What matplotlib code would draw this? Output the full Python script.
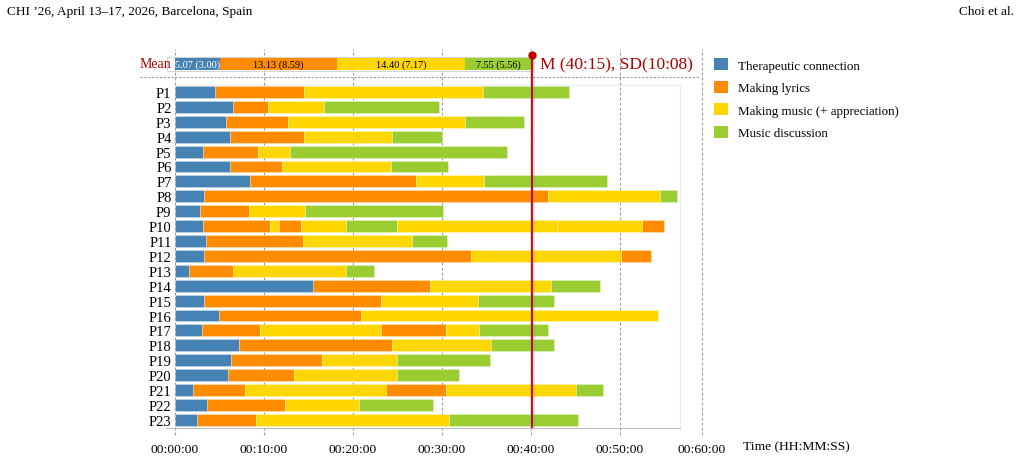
import matplotlib
matplotlib.use("Agg")
import matplotlib.pyplot as plt
from matplotlib.patches import Patch, Rectangle
import numpy as np

plt.rcParams['font.family'] = ['Liberation Serif', 'DejaVu Serif']

participants = [f"P{i}" for i in range(1, 24)]
categories = ["Therapeutic connection", "Making lyrics",
              "Making music (+ appreciation)", "Music discussion"]
cat_codes = ["T", "L", "M", "D"]
colors = ["#4682B4", "#FF8C00", "#FFD700", "#9ACD32"]

# segment order per participant (T=therapeutic, L=lyrics, M=music, D=discussion)
seg_cat = [
    "TLMD", "TLMD", "TLMD", "TLMD", "TLMD", "TLMD", "TLMD", "TLMD", "TLMD",
    "TLMLMDMML", "TLMD", "TLML", "TLMD", "TLMD", "TLMD", "TLM", "TLMLMD",
    "TLMD", "TLMD", "TLMD", "TLMLMD", "TLMD", "TLMD",
]
# segment durations in minutes
seg_min = [
    [4.49, 10.04, 20.05, 9.69],
    [6.55, 3.93, 6.26, 12.92],
    [5.70, 7.03, 19.85, 6.67],
    [6.18, 8.31, 9.89, 5.65],
    [3.18, 6.15, 3.63, 24.31],
    [6.18, 5.84, 12.25, 6.44],
    [8.43, 18.61, 7.68, 13.82],
    [3.29, 38.62, 12.58, 1.95],
    [2.84, 5.51, 6.22, 15.58],
    [3.15, 7.52, 0.98, 2.51, 5.05, 5.70, 17.98, 9.58, 2.44],
    [3.48, 10.90, 12.25, 3.93],
    [3.26, 30.03, 16.79, 3.44],
    [1.57, 4.95, 12.69, 3.15],
    [15.47, 13.18, 13.60, 5.54],
    [3.26, 19.92, 10.86, 8.54],
    [4.94, 15.96, 33.34],
    [3.03, 6.52, 13.60, 7.30, 3.71, 7.78],
    [7.19, 17.19, 11.13, 7.04],
    [6.29, 10.23, 8.39, 10.48],
    [5.96, 7.41, 11.61, 6.90],
    [2.02, 5.81, 15.84, 6.78, 14.61, 3.03],
    [3.56, 8.83, 8.25, 8.32],
    [2.51, 6.62, 21.69, 14.46],
]

mean_vals = [5.07, 13.13, 14.40, 7.55]
sd_vals = [3.00, 8.59, 7.17, 5.56]
total_label = "M (40:15), SD(10:08)"

tick_vals = [0, 10, 20, 30, 40, 50, 59.2]
tick_labels = ["00:00:00", "00:10:00", "00:20:00", "00:30:00",
               "00:40:00", "00:50:00", "00:60:00"]

RED = "#B00000"
W, H = 1021, 460
fig = plt.figure(figsize=(W / 100, H / 100), dpi=100)
ax = fig.add_axes([166 / W, 1 - 429 / H, 539 / W, 379 / H])

px_per_min = 8.9
x0 = 175
ax.set_xlim((166 - x0) / px_per_min, (705 - x0) / px_per_min)
row_px = 14.9
ytop = (50 - 93) / row_px
ybot = (429 - 93) / row_px
ax.set_ylim(ybot, ytop)
mean_y = (65 - 93) / row_px
bar_h = 0.8

# gridlines
for t in tick_vals:
    ax.axvline(t, ymin=-0.018, ymax=1, color="#9a9a9a", lw=0.8,
               ls=(0, (2.5, 2)), zorder=1, clip_on=False)

# participant bars
for i, (cats, mins) in enumerate(zip(seg_cat, seg_min)):
    left = 0.0
    for c, m in zip(cats, mins):
        ax.barh(i, m, left=left, height=bar_h,
                color=colors[cat_codes.index(c)],
                edgecolor=(1, 1, 1, 0.35), linewidth=0.5, zorder=2)
        left += m

# mean bar
box_right = sum(mean_vals)
ax.add_patch(Rectangle(((166 - x0) / px_per_min + 0.1, mean_y - 0.48),
                       box_right - (166 - x0) / px_per_min, 0.96,
                       fill=False, edgecolor="#cccccc", lw=0.6, zorder=1.5))
left = 0.0
for k, (m, s) in enumerate(zip(mean_vals, sd_vals)):
    ax.barh(mean_y, m, left=left, height=bar_h, color=colors[k],
            edgecolor="none", zorder=2)
    ax.text(left + m / 2, mean_y, f"{m:.2f} ({s:.2f})", ha="center",
            va="center", fontsize=7.4, color="white" if k == 0 else "black",
            zorder=3)
    left += m
ax.text((171 - x0) / px_per_min, mean_y, "Mean", ha="right", va="center",
        fontsize=10, color=RED)

# separator below mean
ax.axhline((78 - 93) / row_px, xmin=(140 - 166) / 539, xmax=(700 - 166) / 539,
           color="#999999", lw=0.8, ls=(0, (2, 1.5)), clip_on=False, zorder=1)

# plot frame (faint)
box_top = (86 - 93) / row_px
box_r = (680 - x0) / px_per_min
ax.plot([0, box_r, box_r], [box_top, box_top, ybot], color="#ececec",
        lw=0.8, zorder=0.5)

# red mean line
total = sum(mean_vals)
dot_y = (56 - 93) / row_px
ax.plot([total, total], [dot_y, ybot], color="#888888", lw=3.5, alpha=0.25,
        zorder=3, solid_capstyle="butt")
ax.plot([total, total], [dot_y, ybot], color="#C00000", lw=1.3, zorder=4)
ax.plot([total], [dot_y], "o", color="#C00000", ms=5, zorder=5)
ax.text(total + 8 / px_per_min, mean_y, total_label, ha="left", va="center",
        fontsize=12.5, color=RED)

# axes styling
for sp in ["top", "right", "left"]:
    ax.spines[sp].set_visible(False)
ax.spines["bottom"].set_color("#bbbbbb")
ax.spines["bottom"].set_linewidth(0.8)
ax.spines["bottom"].set_bounds((166 - x0) / px_per_min, box_r)

ax.set_xticks(tick_vals)
ax.set_xticklabels(tick_labels, fontsize=9.7)
ax.tick_params(axis="x", length=0, pad=10.5)
ax.set_yticks(range(len(participants)))
ax.set_yticklabels(participants, fontsize=10.5)
ax.tick_params(axis="y", length=0, pad=-4)

fig.text(743 / W, 1 - 447.5 / H, "Time (HH:MM:SS)", ha="left",
         va="center", fontsize=9.7)

# legend
handles = [Patch(facecolor=c, edgecolor="none") for c in colors]
fig.legend(handles, categories, loc="upper left",
           bbox_to_anchor=(714 / W, 1 - 59 / H), frameon=False,
           fontsize=9.4, handlelength=1.05, handleheight=1.05,
           labelspacing=0.70, handletextpad=0.8, borderpad=0,
           borderaxespad=0)

# header
fig.text(7 / W, 1 - 12 / H, "CHI \u201926, April 13\u201317, 2026, Barcelona, Spain",
         ha="left", va="center", fontsize=9.5)
fig.text(1014 / W, 1 - 12 / H, "Choi et al.", ha="right", va="center",
         fontsize=9.5)

fig.savefig("out.png", dpi=100)
